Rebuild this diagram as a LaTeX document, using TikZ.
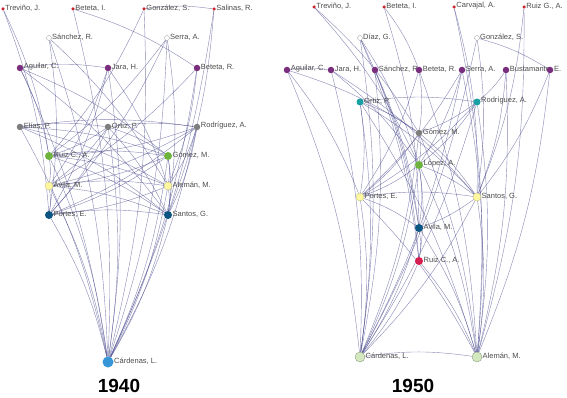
\documentclass[tikz,border=0pt]{standalone}
\usepackage{fontspec}
\setmainfont{Liberation Sans}
\usetikzlibrary{backgrounds}
\definecolor{tieink}{RGB}{70, 70, 140}
\definecolor{govred}{RGB}{205, 35, 45}
\definecolor{plum}{RGB}{120, 45, 125}
\definecolor{slate}{RGB}{125, 125, 125}
\definecolor{leaf}{RGB}{110, 180, 60}
\definecolor{paleyellow}{RGB}{255, 248, 160}
\definecolor{navy}{RGB}{10, 85, 130}
\definecolor{sky}{RGB}{55, 150, 215}
\definecolor{tealdot}{RGB}{25, 160, 165}
\definecolor{crimson}{RGB}{215, 30, 80}
\definecolor{mint}{RGB}{212, 232, 192}

\begin{document}
\begin{tikzpicture}[
	x=1pt, y=-1pt,
	% Styles
	dot/.style={circle, inner sep=0pt, outer sep=0pt},
	reddot/.style={dot, minimum size=3.5pt, fill=govred},
	hollowdot/.style={dot, minimum size=5pt, fill=white, draw=black!35, line width=0.4pt},
	plumdot/.style={dot, minimum size=6.5pt, fill=plum},
	greydot/.style={dot, minimum size=6.5pt, fill=slate},
	leafdot/.style={dot, minimum size=8pt, fill=leaf},
	yellowdot/.style={dot, minimum size=8pt, fill=paleyellow, draw=paleyellow!75!black, line width=0.3pt},
	navydot/.style={dot, minimum size=8pt, fill=navy},
	skydot/.style={dot, minimum size=11pt, fill=sky},
	tealnode/.style={dot, minimum size=7pt, fill=tealdot},
	crimsondot/.style={dot, minimum size=8pt, fill=crimson},
	mintdot/.style={dot, minimum size=10pt, fill=mint, draw=mint!60!black, line width=0.3pt},
	nametext/.style={font=\fontsize{7.5}{8}\selectfont, text=black!70, inner sep=0.5pt, yshift=1pt},
	yeartext/.style={font=\bfseries\fontsize{19}{20}\selectfont, inner sep=0pt},
	tie/.style={draw=tieink, line width=0.4pt, opacity=0.65, bend left=8}
	]
	
	\useasboundingbox (0,0) rectangle (567,398);
	
	% ==========================================
	% LEFT: 1940
	% ==========================================
	
	\node[reddot, label={[nametext]right:{Treviño, J.}}] (trevinoA) at (3,9) {};
	\node[reddot, label={[nametext]right:{Beteta, I.}}] (betetaIA) at (73,9) {};
	\node[reddot, label={[nametext]right:{González, S.}}] (gonzalezA) at (144,9) {};
	\node[reddot, label={[nametext]right:{Salinas, R.}}] (salinasA) at (214,9) {};
	
	\node[hollowdot, label={[nametext]right:{Sánchez, R.}}] (sanchezA) at (49,38) {};
	\node[hollowdot, label={[nametext]right:{Serra, A.}}] (serraA) at (167,38) {};
	
	\node[plumdot, label={[nametext]right:{Aguilar, C.}}] (aguilarA) at (20,68) {};
	\node[plumdot, label={[nametext]right:{Jara, H.}}] (jaraA) at (108,68) {};
	\node[plumdot, label={[nametext]right:{Beteta, R.}}] (betetaRA) at (197,68) {};
	
	\node[greydot, label={[nametext]right:{Elías, P.}}] (eliasA) at (20,127) {};
	\node[greydot, label={[nametext]right:{Ortiz, P.}}] (ortizA) at (108,127) {};
	\node[greydot, label={[nametext]right:{Rodríguez, A.}}] (rodriguezA) at (197,127) {};
	
	\node[leafdot, label={[nametext]right:{Ruiz C., A.}}] (ruizA) at (49,156) {};
	\node[leafdot, label={[nametext]right:{Gómez, M.}}] (gomezA) at (168,156) {};
	\node[yellowdot, label={[nametext]right:{Ávila, M.}}] (avilaA) at (49,186) {};
	\node[yellowdot, label={[nametext]right:{Alemán, M.}}] (alemanA) at (168,186) {};
	\node[navydot, label={[nametext]right:{Portes, E.}}] (portesA) at (49,215) {};
	\node[navydot, label={[nametext]right:{Santos, G.}}] (santosA) at (168,215) {};
	
	\node[skydot, label={[nametext]right:{Cárdenas, L.}}] (cardenasA) at (108,362) {};
	
	\node[yeartext] (yearA) at (119,386) {1940};
	
	% ==========================================
	% RIGHT: 1950
	% ==========================================
	
	\node[reddot, label={[nametext]right:{Treviño, J.}}] (trevinoB) at (314,7) {};
	\node[reddot, label={[nametext]right:{Beteta, I.}}] (betetaIB) at (384,7) {};
	\node[reddot, label={[nametext]right:{Carvajal, A.}}] (carvajalB) at (454,7) {};
	\node[reddot, label={[nametext]right:{Ruiz G., A.}}] (ruizGB) at (524,7) {};
	
	\node[hollowdot, label={[nametext]right:{Díaz, G.}}] (diazB) at (360,38) {};
	\node[hollowdot, label={[nametext]right:{González, S.}}] (gonzalezB) at (477,38) {};
	
	\node[plumdot, label={[nametext]right:{Aguilar, C.}}] (aguilarB) at (287,70) {};
	\node[plumdot, label={[nametext]right:{Jara, H.}}] (jaraB) at (331,70) {};
	\node[plumdot, label={[nametext]right:{Sánchez, R.}}] (sanchezB) at (375,70) {};
	\node[plumdot, label={[nametext]right:{Beteta, R.}}] (betetaRB) at (419,70) {};
	\node[plumdot, label={[nametext]right:{Serra, A.}}] (serraB) at (462,70) {};
	\node[plumdot, label={[nametext]right:{Bustamante, E.}}] (bustamanteB) at (506,70) {};
	\node[plumdot] (unlabeledB) at (550,70) {};
	
	\node[tealnode, label={[nametext]right:{Ortiz, P.}}] (ortizB) at (360,102) {};
	\node[tealnode, label={[nametext]right:{Rodríguez, A.}}] (rodriguezB) at (477,102) {};
	
	\node[greydot, label={[nametext]right:{Gómez, M.}}] (gomezB) at (419,133) {};
	\node[leafdot, label={[nametext]right:{López, A.}}] (lopezB) at (419,165) {};
	\node[yellowdot, label={[nametext]right:{Portes, E.}}] (portesB) at (360,197) {};
	\node[yellowdot, label={[nametext]right:{Santos, G.}}] (santosB) at (477,197) {};
	\node[navydot, label={[nametext]right:{Ávila, M.}}] (avilaB) at (419,228) {};
	\node[crimsondot, label={[nametext]right:{Ruiz C., A.}}] (ruizCB) at (419,261) {};
	
	\node[mintdot, label={[nametext]right:{Cárdenas, L.}}] (cardenasB) at (360,357) {};
	\node[mintdot, label={[nametext]right:{Alemán, M.}}] (alemanB) at (477,357) {};
	
	\node[yeartext] (yearB) at (413,386) {1950};
	
	% ==========================================
	% Ties (behind the dots)
	% ==========================================
	
	\begin{pgfonlayer}{background}
	\foreach \a/\b in {trevinoA/ruizA, trevinoA/portesA, betetaIA/betetaRA, betetaIA/cardenasA,
		gonzalezA/salinasA, gonzalezA/ruizA, gonzalezA/cardenasA, salinasA/santosA, salinasA/cardenasA,
		sanchezA/portesA, sanchezA/alemanA, sanchezA/cardenasA, serraA/ruizA, serraA/portesA, serraA/santosA, serraA/cardenasA,
		aguilarA/jaraA, aguilarA/gomezA, aguilarA/santosA, aguilarA/ruizA, aguilarA/cardenasA,
		jaraA/avilaA, jaraA/portesA, jaraA/cardenasA, jaraA/alemanA,
		betetaRA/avilaA, betetaRA/alemanA, betetaRA/cardenasA,
		eliasA/ortizA, eliasA/rodriguezA, eliasA/gomezA, eliasA/santosA, eliasA/cardenasA, eliasA/alemanA,
		ortizA/rodriguezA, ortizA/ruizA, ortizA/avilaA, ortizA/portesA, ortizA/gomezA, ortizA/santosA, ortizA/cardenasA,
		rodriguezA/ruizA, rodriguezA/avilaA, rodriguezA/portesA, rodriguezA/santosA, rodriguezA/cardenasA, rodriguezA/alemanA,
		ruizA/avilaA, ruizA/gomezA, ruizA/alemanA, ruizA/santosA, ruizA/cardenasA,
		gomezA/avilaA, gomezA/portesA, gomezA/alemanA, gomezA/santosA, gomezA/cardenasA,
		avilaA/portesA, avilaA/alemanA, avilaA/santosA, avilaA/cardenasA,
		alemanA/portesA, alemanA/santosA, alemanA/cardenasA,
		portesA/santosA, portesA/cardenasA, santosA/cardenasA}
		\draw[tie] (\a) to (\b);
	
	\foreach \a/\b in {trevinoB/gomezB, trevinoB/lopezB, betetaIB/betetaRB, betetaIB/avilaB,
		carvajalB/santosB, carvajalB/alemanB, ruizGB/santosB, ruizGB/alemanB,
		diazB/lopezB, diazB/avilaB, diazB/ruizCB, diazB/cardenasB,
		gonzalezB/unlabeledB, gonzalezB/santosB, gonzalezB/cardenasB,
		aguilarB/jaraB, aguilarB/gomezB, aguilarB/portesB, aguilarB/cardenasB,
		jaraB/lopezB, jaraB/cardenasB, jaraB/santosB,
		sanchezB/avilaB, sanchezB/ruizCB, sanchezB/cardenasB,
		betetaRB/portesB, betetaRB/gomezB, betetaRB/alemanB,
		serraB/portesB, serraB/lopezB, serraB/alemanB, serraB/cardenasB,
		bustamanteB/rodriguezB, bustamanteB/santosB, bustamanteB/alemanB,
		unlabeledB/alemanB, unlabeledB/santosB,
		ortizB/rodriguezB, ortizB/gomezB, ortizB/santosB, ortizB/cardenasB, ortizB/alemanB, ortizB/portesB,
		rodriguezB/gomezB, rodriguezB/lopezB, rodriguezB/portesB, rodriguezB/alemanB, rodriguezB/cardenasB,
		gomezB/lopezB, gomezB/portesB, gomezB/santosB, gomezB/cardenasB, gomezB/alemanB,
		lopezB/portesB, lopezB/santosB, lopezB/avilaB, lopezB/ruizCB, lopezB/cardenasB, lopezB/alemanB,
		portesB/santosB, portesB/avilaB, portesB/cardenasB, portesB/alemanB,
		santosB/avilaB, santosB/cardenasB, santosB/alemanB,
		avilaB/ruizCB, avilaB/cardenasB, avilaB/alemanB,
		ruizCB/cardenasB, ruizCB/alemanB, cardenasB/alemanB}
		\draw[tie] (\a) to (\b);
	\end{pgfonlayer}
	
\end{tikzpicture}
\end{document}
